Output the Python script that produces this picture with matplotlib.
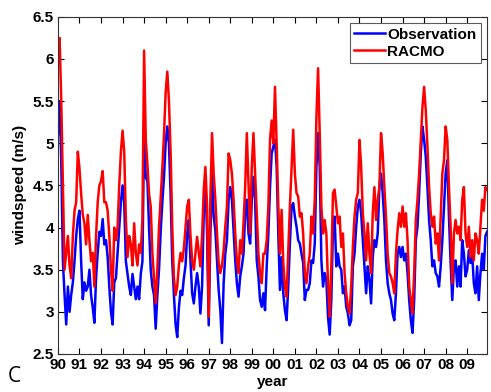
import numpy as np
import matplotlib
matplotlib.use('Agg')
import matplotlib.pyplot as plt

# values, 13 samples per year starting 1990.0
racmo = [
    6.0, 6.25, 5.5, 4.5, 3.5, 3.7, 3.9, 3.55, 3.4, 3.9, 4.2, 4.3, 4.9,      # 1990
    4.7, 4.4, 4.15, 4.05, 3.8, 4.15, 3.85, 3.6, 3.7, 3.3, 3.9, 4.3, 4.5,    # 1991
    4.55, 4.67, 4.3, 4.3, 4.2, 3.9, 3.5, 3.25, 4.0, 3.85, 4.0, 4.5, 4.9,    # 1992
    5.15, 4.9, 4.1, 3.65, 3.9, 3.8, 3.55, 4.05, 3.7, 3.55, 3.8, 3.7, 4.1,   # 1993
    6.1, 5.05, 4.75, 4.4, 4.25, 3.7, 3.4, 3.1, 3.5, 4.0, 4.35, 4.7, 5.1,    # 1994
    5.6, 5.85, 5.5, 4.9, 4.0, 3.4, 3.2, 3.3, 3.55, 3.7, 3.6, 3.75, 4.0,     # 1995
    4.25, 4.33, 3.9, 3.61, 3.5, 3.7, 3.89, 3.7, 3.54, 3.9, 4.45, 4.72, 4.25,  # 1996
    2.94, 4.33, 5.12, 4.64, 4.33, 3.93, 3.58, 3.46, 3.55, 3.73, 4.01, 4.25, 4.88,  # 1997
    4.8, 4.64, 4.33, 3.93, 3.61, 3.46, 3.85, 3.69, 4.05, 4.48, 5.12, 4.52, 3.93,  # 1998
    4.72, 5.12, 4.64, 4.13, 3.69, 3.46, 3.34, 3.69, 3.69, 3.85, 4.25, 5.04, 5.27,  # 1999
    5.0, 5.67, 5.0, 4.25, 3.69, 4.21, 3.58, 3.3, 3.18, 3.73, 4.25, 4.72, 5.16,  # 2000
    4.64, 4.41, 4.37, 4.13, 4.17, 3.93, 3.46, 3.34, 3.54, 3.69, 4.13, 3.93, 4.33,  # 2001
    5.31, 5.89, 5.12, 4.25, 3.93, 4.09, 3.93, 3.34, 2.94, 3.54, 4.41, 4.45, 4.25,  # 2002
    4.05, 4.13, 3.77, 3.93, 3.46, 3.22, 3.06, 2.98, 3.3, 3.77, 4.13, 4.33, 4.41,  # 2003
    5.04, 4.72, 4.17, 3.93, 3.61, 4.05, 3.69, 3.46, 4.17, 4.48, 4.09, 4.33, 4.48,  # 2004
    5.12, 4.88, 4.48, 4.13, 3.69, 3.46, 3.42, 3.34, 3.22, 3.69, 3.97, 4.17, 4.01,  # 2005
    4.25, 4.01, 4.17, 3.85, 3.3, 3.14, 2.98, 3.46, 4.09, 4.33, 4.64, 5.04, 5.43,  # 2006
    5.67, 5.39, 4.96, 4.48, 4.17, 4.01, 4.13, 3.81, 3.93, 3.61, 4.13, 4.64, 4.8,  # 2007
    5.2, 5.04, 4.48, 4.01, 3.34, 3.93, 4.09, 3.93, 4.01, 3.85, 4.33, 4.48, 3.93,  # 2008
    3.77, 4.01, 3.65, 3.85, 3.61, 3.93, 3.85, 3.69, 4.01, 4.33, 4.2, 4.48, 4.45,  # 2009
]
observation = [
    5.1, 5.5, 4.8, 3.6, 3.2, 2.85, 3.3, 3.0, 3.2, 3.35, 3.6, 3.9, 4.1,      # 1990
    4.2, 3.6, 3.15, 3.35, 3.25, 3.3, 3.5, 3.2, 3.05, 2.87, 3.4, 3.7, 3.95,  # 1991
    3.9, 4.1, 3.8, 3.85, 3.65, 3.3, 3.0, 2.85, 3.35, 3.4, 3.7, 4.0, 4.3,    # 1992
    4.5, 4.3, 3.6, 3.45, 3.3, 3.2, 3.45, 3.3, 3.15, 3.3, 3.15, 3.45, 3.6,   # 1993
    5.15, 4.6, 4.55, 4.0, 3.5, 3.3, 3.2, 2.8, 3.2, 3.5, 3.95, 4.3, 4.6,     # 1994
    5.0, 5.2, 5.0, 4.4, 3.6, 3.2, 2.85, 2.7, 3.05, 3.25, 3.2, 3.4, 3.55,    # 1995
    3.93, 4.09, 3.6, 3.22, 3.1, 3.3, 3.46, 3.3, 2.98, 3.3, 4.17, 4.56, 3.93,  # 1996
    2.84, 3.93, 4.64, 4.13, 3.97, 3.61, 3.26, 3.02, 2.63, 3.34, 3.69, 3.85, 4.33,  # 1997
    4.48, 4.33, 3.97, 3.61, 3.34, 3.18, 3.42, 3.54, 3.69, 4.17, 4.33, 3.93, 3.81,  # 1998
    4.33, 4.6, 4.33, 3.61, 3.42, 3.14, 3.06, 3.22, 3.02, 3.54, 3.93, 4.48, 4.88,  # 1999
    4.96, 5.04, 4.72, 3.93, 3.26, 3.65, 3.22, 3.02, 2.9, 3.3, 3.81, 4.25, 4.29,  # 2000
    4.13, 4.01, 3.85, 3.81, 3.69, 3.58, 3.14, 3.26, 3.26, 3.34, 3.61, 3.58, 3.81,  # 2001
    4.72, 5.12, 4.72, 3.61, 3.3, 3.46, 3.38, 2.94, 2.73, 3.14, 4.01, 4.13, 3.54,  # 2002
    3.69, 3.54, 3.5, 3.22, 3.3, 3.06, 2.98, 2.84, 2.9, 3.54, 3.69, 4.01, 4.25,  # 2003
    4.33, 4.17, 3.85, 3.54, 3.22, 3.54, 3.38, 3.1, 3.65, 3.85, 3.77, 3.93, 4.48,  # 2004
    4.64, 4.41, 4.09, 3.61, 3.34, 3.22, 3.14, 2.98, 2.9, 3.22, 3.69, 3.77, 3.65,  # 2005
    3.77, 3.61, 3.69, 3.46, 3.14, 2.9, 2.75, 3.14, 3.85, 4.01, 4.41, 4.88, 5.2,  # 2006
    5.04, 4.84, 4.48, 4.09, 3.85, 3.54, 3.61, 3.46, 3.42, 3.3, 3.54, 3.85, 4.25,  # 2007
    4.64, 4.8, 4.13, 3.58, 3.14, 3.54, 3.61, 3.3, 3.54, 3.3, 3.85, 3.69, 3.42,  # 2008
    3.5, 3.73, 3.58, 3.69, 3.34, 3.22, 3.54, 3.14, 3.46, 3.69, 3.5, 3.9, 3.95,  # 2009
]
years = list(range(1990, 2010))
year_labels = ['%02d' % (y % 100) for y in years]

t = 1990 + np.arange(len(racmo)) / 13.0

plt.rcParams['font.family'] = ['Liberation Sans', 'DejaVu Sans']

fig = plt.figure(figsize=(4.91, 3.92), dpi=100)
ax = fig.add_axes([0.118, 0.097, 0.874, 0.860])

ax.plot(t, observation, color=(0, 0, 1), lw=1.8, label='Observation')
ax.plot(t, racmo, color=(1, 0, 0), lw=1.8, label='RACMO')

ax.set_xlim(t[0], t[-1])
ax.set_ylim(2.5, 6.5)
ax.set_xticks(years)
ax.set_xticklabels(year_labels)
ax.set_yticks(np.arange(2.5, 6.51, 0.5))
ax.set_yticklabels(['2.5', '3', '3.5', '4', '4.5', '5', '5.5', '6', '6.5'])
ax.tick_params(direction='in', top=True, right=True, length=4, width=0.8,
               labelsize=11, pad=3)
for lab in ax.get_xticklabels() + ax.get_yticklabels():
    lab.set_fontweight('bold')
for s in ax.spines.values():
    s.set_linewidth(0.8)
    s.set_color('#333333')

ax.set_ylabel('windspeed (m/s)', fontsize=11, fontweight='bold')
ax.set_xlabel('year', fontsize=11, fontweight='bold', labelpad=2)

leg = ax.legend(loc='upper right', fancybox=False, edgecolor='#333333',
                prop={'weight': 'bold', 'size': 11}, handlelength=2.0,
                borderpad=0.3, labelspacing=0.2, handletextpad=0.15,
                borderaxespad=0.4)
leg.get_frame().set_linewidth(0.8)

fig.text(0.016, 0.025, 'C', fontsize=15, family='Open Sans')

fig.savefig('out.png', dpi=100)
